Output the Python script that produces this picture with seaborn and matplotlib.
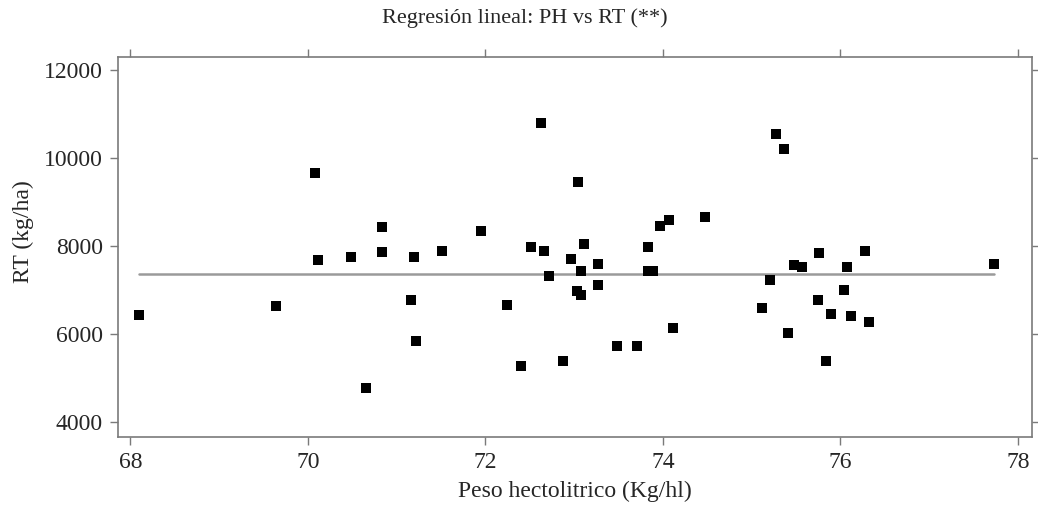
import matplotlib
matplotlib.use("Agg")
import matplotlib.pyplot as plt
import numpy as np
import pandas as pd
import seaborn as sns

# values
ph = [68.10, 69.64, 70.08, 70.11, 70.48, 70.83, 70.83, 70.66, 71.19, 71.16,
      71.22, 71.51, 71.95, 72.24, 72.63, 72.51, 72.66, 72.40, 72.72, 72.88,
      72.96, 73.04, 73.11, 73.08, 73.03, 73.08, 73.27, 73.27, 73.48, 73.71,
      73.83, 73.83, 73.89, 73.97, 74.07, 74.11, 74.48, 75.28, 75.37, 75.12,
      75.21, 75.41, 75.48, 75.57, 75.76, 75.75, 75.89, 75.84, 76.04, 76.08,
      76.12, 76.28, 76.32, 77.73]
rt = [6432, 6636, 9667, 7674, 7758, 8424, 7856, 4780, 7742, 6773,
      5841, 7879, 8333, 6659, 10788, 7970, 7894, 5280, 7318, 5394,
      7705, 9462, 8045, 7439, 6985, 6879, 7598, 7121, 5727, 5727,
      7970, 7439, 7432, 8462, 8591, 6129, 8652, 10545, 10212, 6591,
      7235, 6015, 7561, 7523, 7841, 6773, 6455, 5394, 6992, 7515,
      6402, 7879, 6280, 7598]

# fitted line as drawn in the reference
fit_x = [68.10, 77.73]
fit_y = [7364, 7364]

x_ticks = [68, 70, 72, 74, 76, 78]
y_ticks = [4000, 6000, 8000, 10000, 12000]

df = pd.DataFrame({"PH": ph, "RT": rt})
fit = pd.DataFrame({"PH": fit_x, "RT": fit_y})

sns.set_theme(style="white")
plt.rcParams["font.family"] = ["Liberation Serif", "DejaVu Serif"]

fig = plt.figure(figsize=(10.38, 5.18), dpi=100)
ax = fig.add_axes([0.1137, 0.157, 0.8805, 0.7335])

sns.lineplot(data=fit, x="PH", y="RT", color="#9a9a9a", linewidth=1.8, ax=ax)
sns.scatterplot(data=df, x="PH", y="RT", marker="s", color="black",
                s=44, edgecolor="black", linewidth=0, ax=ax, zorder=3)

ax.set_xlim(67.86, 78.16)
ax.set_ylim(3666, 12302)
ax.set_xticks(x_ticks)
ax.set_yticks(y_ticks)
ax.tick_params(direction="out", length=6, width=1, color="#7a7a7a",
               labelsize=17, top=True, right=True, bottom=True, left=True,
               labeltop=False, labelright=False, pad=5)
for sp in ax.spines.values():
    sp.set_color("#7a7a7a")
    sp.set_linewidth(1.2)

ax.set_xlabel("Peso hectolitrico (Kg/hl)", fontsize=17, labelpad=6)
ax.set_ylabel("RT (kg/ha)", fontsize=17, labelpad=10)
ax.yaxis.set_label_coords(-0.092, 0.54)
fig.suptitle("Regresión lineal: PH vs RT (**)", fontsize=16, x=0.506, y=0.985)

fig.savefig("out.png", dpi=100)
